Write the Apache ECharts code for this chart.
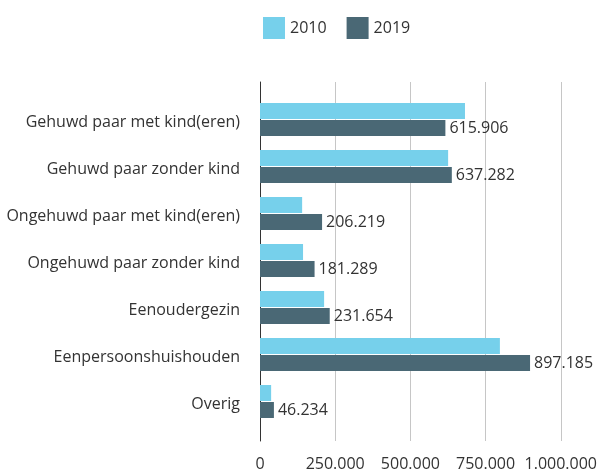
<!DOCTYPE html>
<html>
<head>
<meta charset="utf-8">
<script src="https://cdn.jsdelivr.net/npm/echarts@6/dist/echarts.min.js"></script>
<style>html,body{margin:0;padding:0;background:#fff;}#chart{width:600px;height:472px;}</style>
</head>
<body>
<div id="chart"></div>
<script>
var categories = ["Gehuwd paar met kind(eren)", "Gehuwd paar zonder kind", "Ongehuwd paar met kind(eren)", "Ongehuwd paar zonder kind", "Eenoudergezin", "Eenpersoonshuishouden", "Overig"];
var seriesNames = ["2010", "2019"];
var values2010 = [681000, 625000, 140000, 143000, 213000, 797000, 37000];
var values2019 = [615906, 637282, 206219, 181289, 231654, 897185, 46234];
var tickValues = [0, 250000, 500000, 750000, 1000000];

function fmt(v) {
  return String(Math.round(v)).replace(/\B(?=(\d{3})+(?!\d))/g, ".");
}

var FONT = "Open Sans";
var TXT = "#333333";
var chart = echarts.init(document.getElementById("chart"), null, {renderer: "canvas"});
chart.setOption({
  animation: false,
  textStyle: {fontFamily: FONT},
  legend: {
    data: seriesNames,
    left: 258, top: 12,
    icon: "rect",
    itemWidth: 22, itemHeight: 22, itemGap: 20,
    textStyle: {fontSize: 16, color: TXT, fontFamily: FONT}
  },
  grid: [
    {left: 260, right: 39, top: 82, bottom: 29, containLabel: false},
    {left: 260, right: 39, top: 96, height: 329, containLabel: false}
  ],
  xAxis: [
    {
      gridIndex: 0, type: "value", min: tickValues[0], max: tickValues[tickValues.length - 1], interval: 250000,
      axisLine: {show: false}, axisTick: {show: false},
      splitLine: {show: true, lineStyle: {color: "#c6c6c6", width: 1}},
      axisLabel: {fontSize: 16, color: TXT, margin: 15, fontFamily: FONT, formatter: function (v) { return fmt(v); }}
    },
    {
      gridIndex: 1, type: "value", min: tickValues[0], max: tickValues[tickValues.length - 1], interval: 250000,
      show: false
    }
  ],
  yAxis: [
    {
      gridIndex: 0, type: "category", data: categories, inverse: true,
      axisLine: {show: true, lineStyle: {color: "#333333", width: 1}},
      axisTick: {show: false}, axisLabel: {show: false}, splitLine: {show: false}
    },
    {
      gridIndex: 1, type: "category", data: categories, inverse: true,
      axisLine: {show: false}, axisTick: {show: false},
      axisLabel: {
        color: TXT, margin: 20, fontFamily: FONT,
        formatter: function (v) { return "{c|" + v + "}"; },
        rich: {c: {fontSize: 16, lineHeight: 18, color: TXT, fontFamily: FONT, padding: [6, 0, 0, 0]}}
      }
    }
  ],
  series: [
    {
      name: seriesNames[0], type: "bar", xAxisIndex: 1, yAxisIndex: 1,
      data: values2010, barWidth: 16, barGap: "6%",
      itemStyle: {color: "#76D0EB"}
    },
    {
      name: seriesNames[1], type: "bar", xAxisIndex: 1, yAxisIndex: 1,
      data: values2019, barWidth: 16, barGap: "6%",
      itemStyle: {color: "#4A6875"},
      label: {show: true, position: "right", distance: 4, fontSize: 16, color: TXT, fontFamily: FONT,
        formatter: function (p) { return fmt(p.value); }}
    }
  ]
});
</script>
</body>
</html>
